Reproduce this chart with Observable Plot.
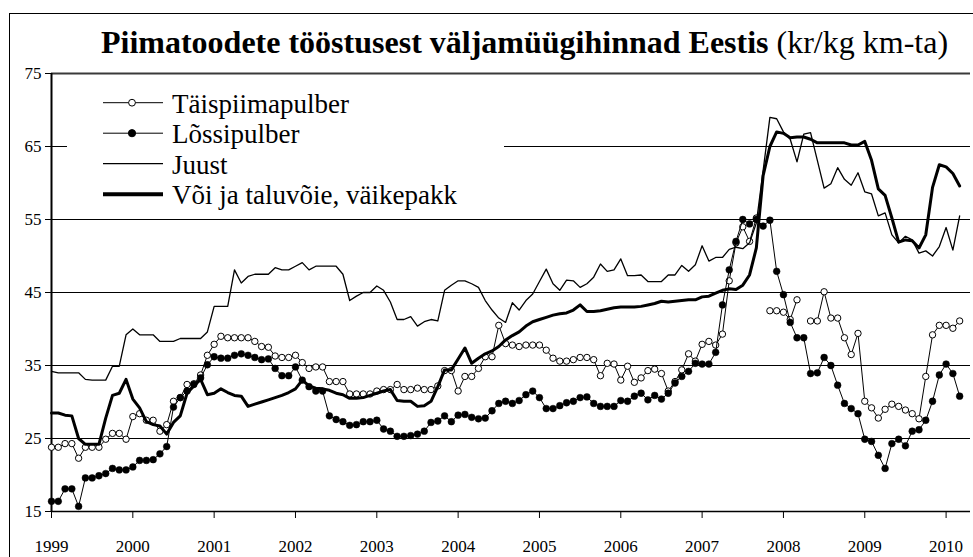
<!DOCTYPE html>
<html>
<head>
<meta charset="utf-8">
<script src="https://cdn.jsdelivr.net/npm/d3@7"></script>
<script src="https://cdn.jsdelivr.net/npm/@observablehq/plot@0.6"></script>
<style>
html, body { margin: 0; padding: 0; background: #fff; }
#wrap { position: relative; width: 973px; height: 557px; overflow: hidden; font-family: 'Liberation Serif', Tinos, 'Times New Roman', Times, 'DejaVu Serif', serif; }
#frame { position: absolute; left: 9px; top: 13px; width: 1100px; height: 700px; border: 1.5px solid #000; box-sizing: border-box; }
#title { position: absolute; left: 0; width: 1049px; top: 26px; text-align: center; font-size: 32px; line-height: 32px; white-space: nowrap; color: #000; }
#title b { font-weight: bold; }
#chart { position: absolute; left: 0; top: 0; }
#legend { position: absolute; left: 0; top: 0; }
</style>
</head>
<body>
<div id="wrap">
  <div id="frame"></div>
  <div id="chart"></div>
  <div id="title"><b>Piimatoodete tööstusest väljamüügihinnad Eestis</b> (kr/kg km-ta)</div>
  <div id="legend"></div>
</div>
<script>
// ---- data (monthly, Jan 1999 .. Mar 2010) ----
const startYear = 1999;
const yearTicks = [1999, 2000, 2001, 2002, 2003, 2004, 2005, 2006, 2007, 2008, 2009, 2010];
const valueTicks = [15, 25, 35, 45, 55, 65, 75];
const seriesNames = ["Täispiimapulber", "Lõssipulber", "Juust", "Või ja taluvõie, väikepakk"];

const taispiimapulber = [
 23.8, 23.8, 24.3, 24.3, 22.3, 23.8, 23.8, 23.8, 24.9, 25.7, 25.7, 24.9,
 28.0, 28.4, 27.5, 27.5, 26.0, 26.9, 30.1, 30.6, 32.4, 32.5, 33.7, 36.4,
 37.9, 39.0, 38.8, 38.8, 38.8, 38.8, 38.3, 37.6, 37.5, 36.3, 36.1, 36.1,
 36.4, 35.4, 34.6, 34.8, 34.8, 32.8, 32.8, 32.8, 31.1, 31.1, 31.1, 31.1,
 31.5, 31.7, 31.7, 32.4, 31.7, 31.7, 31.9, 31.7, 31.7, 32.2, 34.3, 34.3,
 31.5, 33.5, 33.5, 34.6, 36.2, 36.2, 40.5, 38.0, 37.8, 37.6, 37.8, 37.8,
 37.8, 37.1, 36.0, 35.6, 35.6, 35.8, 36.1, 36.1, 35.8, 33.6, 35.3, 35.2,
 33.0, 34.9, 32.7, 33.3, 34.3, 34.5, 33.9, 31.5, 32.8, 34.4, 36.6, 35.6,
 37.9, 38.3, 37.8, 39.3, 46.6, 51.8, 54.0, 52.0, 55.2, null, 42.5, 42.5,
 42.3, 41.3, 44.0, null, 41.1, 41.1, 45.1, 41.5, 41.5, 38.8, 36.5, 39.4,
 30.1, 29.2, 27.8, 29.0, 29.7, 29.4, 28.9, 28.4, 27.7, 33.5, 39.2, 40.5,
 40.5, 40.1, 41.1
];
const lossipulber = [
 16.4, 16.4, 18.1, 18.1, 15.7, 19.6, 19.6, 19.9, 20.2, 20.9, 20.7, 20.7,
 21.1, 22.0, 22.0, 22.1, 22.9, 23.9, 29.3, 30.6, 31.5, 32.4, 33.3, 35.1,
 36.2, 36.0, 36.0, 36.4, 36.6, 36.4, 36.1, 35.8, 35.9, 34.6, 33.6, 33.6,
 34.8, 33.0, 32.1, 31.5, 31.5, 28.1, 27.6, 27.3, 26.8, 26.9, 27.3, 27.3,
 27.5, 26.3, 26.0, 25.3, 25.3, 25.4, 25.6, 26.0, 27.2, 27.4, 28.1, 27.3,
 28.2, 28.3, 27.9, 27.7, 27.8, 28.8, 29.8, 30.1, 29.8, 30.2, 31.0, 31.5,
 30.6, 29.1, 29.1, 29.5, 29.9, 30.1, 30.6, 30.7, 29.8, 29.4, 29.4, 29.4,
 30.2, 30.1, 30.8, 31.2, 30.3, 30.9, 30.4, 31.2, 32.6, 33.5, 34.2, 35.3,
 35.2, 35.2, 36.8, 43.3, 48.1, 52.0, 55.0, 54.4, 55.0, 54.1, 54.9, 47.9,
 44.7, 40.9, 38.8, 38.8, 33.9, 34.0, 36.1, 35.0, 32.3, 29.8, 29.1, 28.4,
 24.9, 24.6, 22.7, 20.9, 24.3, 24.9, 24.0, 26.0, 26.2, 27.5, 30.1, 33.7,
 35.2, 33.9, 30.8
];
const juust = [
 34.2, 34.0, 34.0, 34.0, 34.0, 33.1, 33.0, 33.0, 33.0, 34.9, 34.9, 39.2,
 40.0, 39.2, 39.2, 39.2, 38.3, 38.3, 38.3, 38.7, 38.7, 38.7, 38.7, 39.6,
 43.1, 43.1, 43.1, 48.1, 46.3, 47.2, 47.5, 47.5, 47.5, 48.4, 48.1, 48.1,
 48.6, 49.1, 48.1, 48.6, 48.6, 48.6, 48.6, 47.5, 43.9, 44.5, 45.0, 45.0,
 45.9, 45.3, 43.7, 41.3, 41.3, 41.7, 40.4, 41.0, 41.3, 41.1, 45.3, 46.0,
 46.6, 46.6, 46.2, 45.7, 43.9, 42.6, 41.5, 40.9, 43.6, 42.6, 43.9, 44.8,
 46.5, 48.2, 46.2, 45.3, 46.7, 46.6, 45.7, 46.2, 47.1, 48.9, 47.9, 48.1,
 49.6, 47.3, 47.3, 47.4, 46.5, 46.5, 46.5, 47.4, 47.4, 48.7, 47.9, 48.8,
 51.4, 49.3, 49.8, 49.8, 50.9, 51.2, 51.0, 51.8, 54.5, 61.7, 69.0, 68.8,
 67.0, 66.0, 62.9, 66.7, 66.9, 63.1, 59.3, 59.9, 62.1, 60.5, 59.7, 61.4,
 58.8, 58.5, 55.5, 55.9, 52.9, 51.8, 52.7, 52.2, 50.4, 50.7, 50.0, 51.3,
 53.9, 50.8, 55.5
];
const voi = [
 28.5, 28.5, 28.2, 28.1, 25.0, 24.2, 24.2, 24.2, 27.8, 30.9, 31.2, 33.1,
 30.4, 29.2, 27.3, 26.9, 26.7, 25.6, 27.2, 28.1, 31.2, 32.2, 33.1, 31.0,
 31.2, 31.8, 31.3, 30.9, 30.8, 29.4, 29.7, 30.0, 30.3, 30.6, 30.9, 31.3,
 31.8, 33.0, 32.2, 31.9, 31.8, 31.6, 31.2, 31.0, 30.5, 30.5, 30.6, 30.9,
 31.2, 31.5, 31.7, 30.2, 30.1, 30.1, 29.4, 29.5, 30.1, 32.1, 34.4, 34.4,
 35.9, 37.4, 35.3, 36.0, 36.6, 37.0, 37.6, 38.5, 39.1, 39.6, 40.4, 41.0,
 41.3, 41.6, 41.9, 42.1, 42.2, 42.6, 43.3, 42.4, 42.4, 42.5, 42.7, 42.9,
 43.0, 43.0, 43.0, 43.1, 43.3, 43.5, 43.8, 43.7, 43.8, 43.9, 44.0, 44.0,
 44.4, 44.5, 44.9, 45.3, 45.5, 45.4, 46.0, 47.4, 51.1, 61.0, 65.0, 67.0,
 66.8, 66.2, 66.3, 66.3, 66.0, 65.5, 65.5, 65.5, 65.5, 65.5, 65.2, 65.2,
 65.7, 63.1, 59.2, 58.3, 55.2, 51.9, 52.2, 52.1, 51.1, 52.9, 59.4, 62.5,
 62.2, 61.3, 59.6
];

// ---- build tables ----
const toRows = arr => arr.map((v, i) => ({date: startYear + i / 12, value: v}));
const tRows = toRows(taispiimapulber);
const lRows = toRows(lossipulber);
const jRows = toRows(juust);
const vRows = toRows(voi);

const font = "'Liberation Serif', Tinos, 'Times New Roman', Times, 'DejaVu Serif', serif";

const chart = Plot.plot({
  width: 973,
  height: 557,
  marginTop: 73,
  marginBottom: 46,
  marginLeft: 51,
  marginRight: 3,
  style: {fontFamily: font, fontSize: "17px", background: "transparent", color: "#000", overflow: "visible"},
  x: {domain: [1999, 2010.3]},
  y: {domain: [15, 75]},
  marks: [
    Plot.ruleY(valueTicks.filter(d => d > 15 && d < 75), {stroke: "#000", strokeWidth: 1}),
    Plot.ruleY([75], {stroke: "#3a3a3a", strokeWidth: 2.2}),
    Plot.axisY({ticks: valueTicks, tickSize: 6, tickPadding: 4, label: null, fontSize: 17, stroke: "#000"}),
    Plot.axisX({ticks: yearTicks, tickSize: 7, tickPadding: 21, tickFormat: "d", label: null, fontSize: 17, stroke: "#000"}),
    Plot.ruleX([1999], {stroke: "#000", strokeWidth: 2}),
    Plot.ruleY([15], {stroke: "#000", strokeWidth: 1.5}),
    Plot.line(tRows, {x: "date", y: "value", stroke: "#000", strokeWidth: 1}),
    Plot.dot(tRows, {x: "date", y: "value", r: 3.2, fill: "#fff", stroke: "#000", strokeWidth: 1}),
    Plot.line(lRows, {x: "date", y: "value", stroke: "#000", strokeWidth: 1}),
    Plot.dot(lRows, {x: "date", y: "value", r: 3.4, fill: "#000", stroke: "#000", strokeWidth: 0.5}),
    Plot.line(jRows, {x: "date", y: "value", stroke: "#000", strokeWidth: 1.3}),
    Plot.line(vRows, {x: "date", y: "value", stroke: "#000", strokeWidth: 3})
  ]
});
chart.style.fontFamily = font;
document.getElementById("chart").appendChild(chart);

// ---- legend (inside plot area, white box) ----
const legendStyles = [
  {width: 1, marker: "open"},
  {width: 1, marker: "filled"},
  {width: 1.3, marker: null},
  {width: 4, marker: null}
];
const lg = d3.select("#legend").append("svg")
  .attr("width", 973).attr("height", 557)
  .style("overflow", "visible");
lg.append("rect").attr("x", 67).attr("y", 75).attr("width", 437).attr("height", 139).attr("fill", "#fff");
seriesNames.forEach((name, i) => {
  const cy = 102.7 + 30.5 * i;
  const s = legendStyles[i];
  lg.append("line").attr("x1", 103).attr("x2", 163).attr("y1", cy).attr("y2", cy)
    .attr("stroke", "#000").attr("stroke-width", s.width);
  if (s.marker) {
    lg.append("circle").attr("cx", 132).attr("cy", cy).attr("r", s.marker === "open" ? 3.4 : 3.6)
      .attr("fill", s.marker === "open" ? "#fff" : "#000").attr("stroke", "#000").attr("stroke-width", 1);
  }
  lg.append("text").attr("x", 172).attr("y", cy + 10)
    .style("font-family", font).attr("font-size", 27).attr("fill", "#000")
    .text(name);
});
</script>
</body>
</html>
